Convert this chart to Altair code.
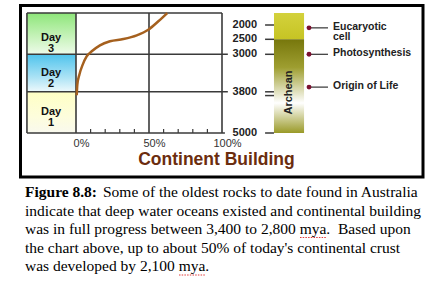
import altair as alt
import pandas as pd

# ---------------- data ----------------
day_names = ["Day\n3", "Day\n2", "Day\n1"]
day_top = [1580, 3000, 3800]
day_bottom = [3000, 3800, 5000]
day_label_mya = [2455, 3400, 4390]

curve_pct = [0.5, 0.9, 2.3, 4.6, 7.3, 10.8, 16.4, 23.3, 32.4, 41.6, 49.5, 56.4, 62.5]
curve_mya = [3900, 3650, 3435, 3220, 3045, 2900, 2700, 2565, 2490, 2360, 2165, 1870, 1580]

ylabel_values = [2000, 2500, 3000, 3800, 5000]
ytick_values = [2000, 2500, 3000, 3800, 3910, 5000]
grid_pct = [0, 50, 100]
grid_mya = [3000, 3800]
minor_pct = [10, 20, 30, 40, 60, 70, 80, 90]

eon_names = ["", "Archean"]
eon_top = [1580, 2500]
eon_bottom = [2500, 5000]
eon_label_mya = [2250, 3820]

event_names = ["Eucaryotic\ncell", "Photosynthesis", "Origin of Life"]
event_mya = [2100, 3000, 3700]

title_text = "Continent Building"
caption_bold = "Figure 8.8:"
caption_lines = [
    "Some of the oldest rocks to date found in Australia",
    "indicate that deep water oceans existed and continental building",
    "was in full progress between 3,400 to 2,800 mya.\u00a0 Based upon",
    "the chart above, up to about 50% of today's continental crust",
    "was developed by 2,100 mya.",
]

# ---------------- tables ----------------
days = pd.DataFrame({"idx": [0, 1, 2], "name": day_names, "top": day_top,
                     "bottom": day_bottom, "lab": day_label_mya})
curve = pd.DataFrame({"i": range(len(curve_pct)), "pct": curve_pct, "mya": curve_mya})
ylabels = pd.DataFrame({"v": ylabel_values, "t": [str(v) for v in ylabel_values]})
yticks = pd.DataFrame({"v": ytick_values})
vgrid = pd.DataFrame({"pct": grid_pct})
hgrid = pd.DataFrame({"mya": grid_mya})
minor = pd.DataFrame({"pct": minor_pct})
eons = pd.DataFrame({"idx": [0, 1], "name": eon_names, "top": eon_top,
                     "bottom": eon_bottom, "lab": eon_label_mya})
events = pd.DataFrame({"name": event_names, "mya": event_mya})
one = pd.DataFrame({"a": [0]})
caption = pd.DataFrame({"line": list(range(1, len(caption_lines) + 1)), "text": caption_lines})

# ---------------- scales ----------------
XS = alt.Scale(domain=[0, 100], nice=False, zero=False)
YS = alt.Scale(domain=[1580, 2000, 2500, 3000, 3800, 5000],
               range=[0, 12, 26.3, 41.3, 78.8, 120], nice=False, zero=False)
AX = alt.Axis(values=[0, 50, 100], labelExpr="datum.value + '%'", domain=False,
              ticks=False, grid=False, title=None, labelFont="Liberation Sans",
              labelFontSize=11, labelColor="#333333", labelPadding=4,
              labelOffset=5, labelFlush=False)


def X(f):
    return alt.X(f, type="quantitative", scale=XS, axis=AX)


def XD(v):
    return alt.XDatum(v, type="quantitative", scale=XS, axis=AX)


def Y(f):
    return alt.Y(f, type="quantitative", scale=YS, axis=None)


def YD(v):
    return alt.YDatum(v, type="quantitative", scale=YS, axis=None)


def grad(colors):
    return alt.LinearGradient(
        gradient="linear",
        stops=[alt.GradientStop(color=c, offset=o) for c, o in colors],
        x1=0, x2=0, y1=0, y2=1)


LEFT = -33.6   # left edge of the day column (percent units)
BAR_L, BAR_R = 135.6, 156.2
LINE = "#3a3a3a"

layers = []

# day boxes
day_grads = [
    [("#8ee67a", 0), ("#c9f3bd", 0.6), ("#eefbea", 1)],
    [("#4fc3ec", 0), ("#a9e2f5", 0.6), ("#eef9fc", 1)],
    [("#ffffc4", 0), ("#fdfddc", 0.6), ("#f9f9ee", 1)],
]
for i, g in enumerate(day_grads):
    layers.append(
        alt.Chart(days).transform_filter(alt.datum.idx == i)
        .mark_rect(fill=grad(g))
        .encode(x=XD(LEFT), x2=alt.datum(0), y=Y("top"), y2="bottom")
    )

layers.append(
    alt.Chart(days).mark_text(lineBreak="\n", font="Liberation Sans", fontWeight="bold",
                              fontSize=11, lineHeight=11, color="#111111")
    .encode(x=XD(-17.1), y=Y("lab"), text="name")
)

# eon bar
eon_grads = [
    [("#d3d13c", 0), ("#c6c424", 1)],
    [("#77770c", 0), ("#9e9e30", 0.3), ("#ffffff", 0.68), ("#9a9a28", 1)],
]
for i, g in enumerate(eon_grads):
    layers.append(
        alt.Chart(eons).transform_filter(alt.datum.idx == i)
        .mark_rect(fill=grad(g))
        .encode(x=XD(BAR_L), x2=alt.datum(BAR_R), y=Y("top"), y2="bottom")
    )
layers.append(
    alt.Chart(eons).mark_text(angle=270, font="Liberation Sans", fontWeight="bold",
                              fontSize=11, color="#222222")
    .encode(x=XD((BAR_L + BAR_R) / 2), y=Y("lab"), text="name")
)

# frame / grid lines
layers.append(
    alt.Chart(hgrid).mark_rule(color=LINE, strokeWidth=1.6)
    .encode(x=XD(LEFT), x2=alt.datum(104), y=Y("mya"))
)
layers.append(
    alt.Chart(one).mark_rule(color=LINE, strokeWidth=1.6)
    .encode(x=XD(LEFT), x2=alt.datum(100), y=YD(1580))
)
layers.append(
    alt.Chart(one).mark_rule(color=LINE, strokeWidth=1.6)
    .encode(x=XD(LEFT), x2=alt.datum(102), y=YD(5000))
)
layers.append(
    alt.Chart(vgrid).mark_rule(color=LINE, strokeWidth=1.6)
    .encode(x=X("pct"), y=YD(1580), y2=alt.datum(5000))
)
layers.append(
    alt.Chart(one).mark_rule(color=LINE, strokeWidth=1.6)
    .encode(x=XD(LEFT), y=YD(1580), y2=alt.datum(5000))
)
layers.append(
    alt.Chart(minor).mark_rule(color=LINE, strokeWidth=1.2)
    .encode(x=X("pct"), y=YD(5000), y2=alt.datum(4880))
)

# right-hand time labels and ticks
layers.append(
    alt.Chart(ylabels).mark_text(align="right", baseline="middle", font="Liberation Sans",
                                 fontWeight="bold", fontSize=11, color="#222222")
    .encode(x=XD(124), y=Y("v"), text="t")
)
layers.append(
    alt.Chart(yticks).mark_rule(color=LINE, strokeWidth=1.5)
    .encode(x=XD(129.5), x2=alt.datum(BAR_L), y=Y("v"))
)

# events
layers.append(
    alt.Chart(events).mark_rule(color="#333333", strokeWidth=1.2)
    .encode(x=XD(159.6), x2=alt.datum(172.6), y=Y("mya"))
)
layers.append(
    alt.Chart(events).mark_circle(size=24, color="#7a1030", opacity=1)
    .encode(x=XD(159.6), y=Y("mya"))
)
layers.append(
    alt.Chart(events).mark_text(align="left", baseline="middle", lineBreak="\n",
                                lineHeight=10.5, dy=-1, font="Liberation Sans",
                                fontWeight="bold", fontSize=10.5, color="#222222")
    .encode(x=XD(176), y=Y("mya"), text="name")
)

# curve
layers.append(
    alt.Chart(curve).mark_line(interpolate="monotone", color="#a5601e", strokeWidth=2.5)
    .encode(x=X("pct"), y=Y("mya"), order="i")
)

# title inside the frame
layers.append(
    alt.Chart(one).mark_text(font="Liberation Sans", fontWeight="bold", fontSize=17.5,
                             color="#6b2d0e", baseline="middle")
    .encode(x=XD(96.2), y=alt.value(147), text=alt.value(title_text))
)

# outer frame
layers.append(
    alt.Chart(one).mark_rect(fillOpacity=0, stroke="black", strokeWidth=3)
    .encode(x=alt.value(-55.5), x2=alt.value(347), y=alt.value(-7.5), y2=alt.value(164))
)

# caption
CY = alt.Scale(domain=[1, 5], range=[184.3, 258.3])
cap_style = dict(align="left", baseline="alphabetic", font="Liberation Serif",
                 fontSize=15.5, color="black")
layers.append(
    alt.Chart(caption).transform_filter(alt.datum.line == 1)
    .mark_text(fontWeight="bold", **cap_style)
    .encode(x=alt.value(-51), y=alt.Y("line:Q", scale=CY, axis=None), text=alt.value(caption_bold))
)
layers.append(
    alt.Chart(caption).transform_filter(alt.datum.line == 1)
    .mark_text(**cap_style)
    .encode(x=alt.value(27), y=alt.Y("line:Q", scale=CY, axis=None), text="text")
)
layers.append(
    alt.Chart(caption).transform_filter(alt.datum.line > 1)
    .mark_text(**cap_style)
    .encode(x=alt.value(-51), y=alt.Y("line:Q", scale=CY, axis=None), text="text")
)

# spell-check squiggles under "mya"
for x1, x2, yy in [(224, 250, 224.5), (103, 129, 262)]:
    layers.append(
        alt.Chart(one).mark_rule(color="#e03a3a", strokeWidth=1, strokeDash=[1.5, 1.2])
        .encode(x=alt.value(x1), x2=alt.value(x2), y=alt.value(yy))
    )

chart = (
    alt.layer(*layers)
    .resolve_scale(y="independent")
    .properties(width=146, height=120, background="white",
                padding={"left": 76, "top": 13, "right": 214, "bottom": 148},
                autosize=alt.AutoSizeParams(type="none"))
    .configure_view(stroke=None)
)

chart.save("out.html", embed_options={"renderer": "svg", "actions": False})
